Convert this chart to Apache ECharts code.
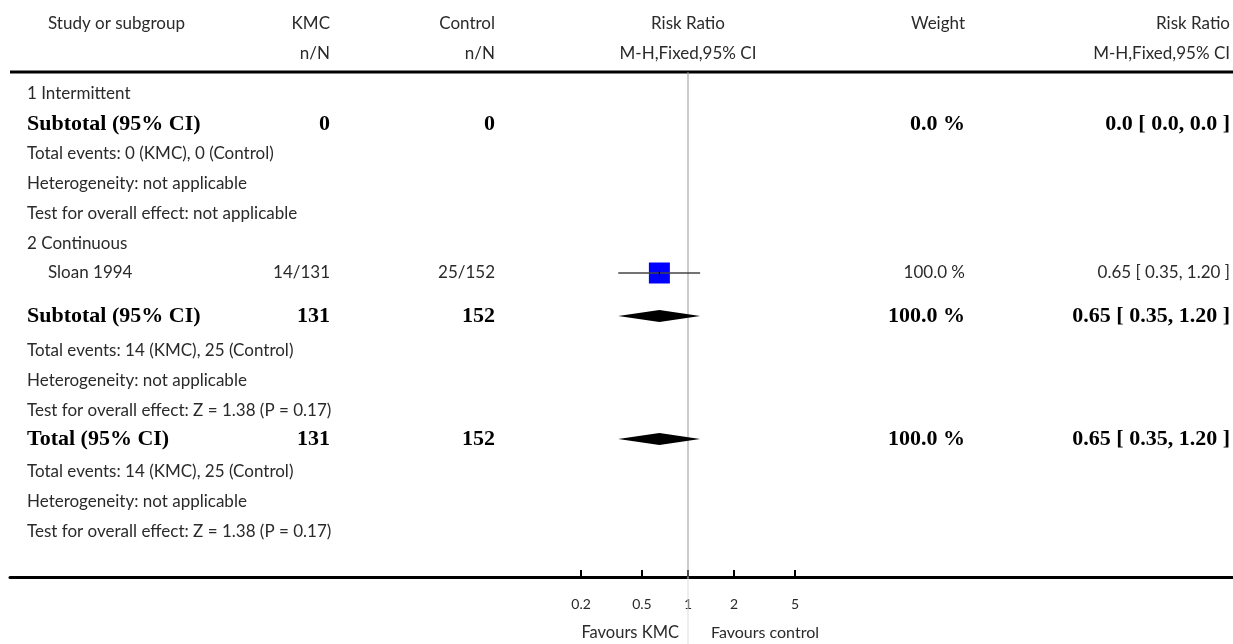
<!DOCTYPE html>
<html>
<head>
<meta charset="utf-8">
<script src="https://cdn.jsdelivr.net/npm/echarts@6/dist/echarts.min.js"></script>
<style>html,body{margin:0;padding:0;background:#fff}#c{width:1233px;height:644px}</style>
</head>
<body>
<div id="c"></div>
<script>
// ---------- data ----------
const rowLabels = [
  '1 Intermittent',
  'Subtotal (95% CI)',
  'Total events: 0 (KMC), 0 (Control)',
  'Heterogeneity: not applicable',
  'Test for overall effect: not applicable',
  '2 Continuous',
  'Sloan 1994',
  'Subtotal (95% CI)',
  'Total events: 14 (KMC), 25 (Control)',
  'Heterogeneity: not applicable',
  'Test for overall effect: Z = 1.38 (P = 0.17)',
  'Total (95% CI)',
  'Total events: 14 (KMC), 25 (Control)',
  'Heterogeneity: not applicable',
  'Test for overall effect: Z = 1.38 (P = 0.17)'
];
const rowKinds = ['heading','subtotal','note','note','note','heading','study','subtotal','note','note','note','total','note','note','note'];
const kmcValues     = ['', '0', '', '', '', '', '14/131', '131', '', '', '', '131', '', '', ''];
const controlValues = ['', '0', '', '', '', '', '25/152', '152', '', '', '', '152', '', '', ''];
const weightValues  = ['', '0.0 %', '', '', '', '', '100.0 %', '100.0 %', '', '', '', '100.0 %', '', '', ''];
const ciTexts       = ['', '0.0 [ 0.0, 0.0 ]', '', '', '', '', '0.65 [ 0.35, 1.20 ]', '0.65 [ 0.35, 1.20 ]', '', '', '', '0.65 [ 0.35, 1.20 ]', '', '', ''];
const estimates     = [null, null, null, null, null, null, 0.65, 0.65, null, null, null, 0.65, null, null, null];
const lowerCI       = [null, null, null, null, null, null, 0.35, 0.35, null, null, null, 0.35, null, null, null];
const upperCI       = [null, null, null, null, null, null, 1.20, 1.20, null, null, null, 1.20, null, null, null];
const weights       = [null, null, null, null, null, null, 100, 100, null, null, null, 100, null, null, null];
const tickValues = [0.2, 0.5, 1, 2, 5];
const favoursLeft = 'Favours KMC';
const favoursRight = 'Favours control';
const headers = {
  study: 'Study or subgroup', kmc: 'KMC', control: 'Control', rr: 'Risk Ratio',
  nN: 'n/N', method: 'M-H,Fixed,95% CI', weight: 'Weight'
};

// ---------- layout (vertical row positions on the table's y scale) ----------
const rowPos = [94, 124, 154, 184, 214, 244, 273, 316, 351, 381, 411, 439, 472, 502, 532];
const headerPos = [24, 54];
const headRulePos = 72;
const axisPos = 577;
const favoursPos = 633;
const pageBottom = 644;

const chart = echarts.init(document.getElementById('c'), null, {renderer: 'canvas'});

const gridLeft = 10, gridRight = 0;
const W = 1233 - gridLeft - gridRight;
const pxPerDecade = 153;
const nullX = 688;
const xMin = Math.pow(10, -(nullX - gridLeft) / pxPerDecade);
const xMax = Math.pow(10, (gridLeft + W - nullX) / pxPerDecade);

const SANS = 'Lato, "Open Sans", sans-serif';
const SERIF = '"Liberation Serif", "DejaVu Serif", serif';
const TXT = '#2a2a2a';

const col = { study: 27, studyIndent: 48, kmc: 330, control: 495, weight: 965, ci: 1230 };

function txt(text, x, y, align, bold) {
  return {
    type: 'text',
    style: {
      text: text, x: x, y: y, align: align, verticalAlign: 'middle',
      font: bold ? ('bold 22px ' + SERIF) : ('17px ' + SANS),
      fill: bold ? '#000' : TXT
    }
  };
}

const tableData = rowLabels.map((l, i) => [1, rowPos[i], i]);
const studyData = [], diamondData = [];
rowKinds.forEach((k, i) => {
  if (estimates[i] == null) return;
  if (k === 'study') studyData.push([estimates[i], rowPos[i], lowerCI[i], upperCI[i], weights[i]]);
  else diamondData.push([estimates[i], rowPos[i], lowerCI[i], upperCI[i]]);
});

const option = {
  animation: false,
  grid: { left: gridLeft, right: gridRight, top: 0, bottom: 644 - axisPos, containLabel: false },
  xAxis: {
    type: 'log', min: xMin, max: xMax, logBase: 10, position: 'bottom',
    axisLine: { show: true, onZero: false, lineStyle: { color: '#000', width: 3 } },
    axisTick: { show: true, inside: true, length: 7, lineStyle: { color: '#000', width: 2 }, customValues: tickValues },
    axisLabel: { show: true, customValues: tickValues, margin: 20, fontSize: 14, fontFamily: SANS, color: TXT,
      formatter: v => String(+(+v).toPrecision(3)) },
    splitLine: { show: false }, minorTick: { show: false }, minorSplitLine: { show: false }
  },
  yAxis: { type: 'value', inverse: true, min: 0, max: axisPos, show: false },
  series: [
    // header, rules, null line, favours labels
    {
      type: 'custom', data: [[1, 0]], silent: true, clip: false, z: 1,
      renderItem: function (params, api) {
        const cs = params.coordSys;
        const top = api.coord([1, headRulePos]);
        const axisP = api.coord([1, axisPos]);
        const bottom = api.coord([1, pageBottom]);
        const h0 = api.coord([1, headerPos[0]])[1], h1 = api.coord([1, headerPos[1]])[1];
        const fy = api.coord([1, favoursPos])[1];
        return {
          type: 'group',
          children: [
            { type: 'line', shape: { x1: cs.x, y1: top[1], x2: cs.x + cs.width, y2: top[1] }, style: { stroke: '#000', lineWidth: 3 } },
            { type: 'line', shape: { x1: top[0], y1: top[1], x2: axisP[0], y2: axisP[1] }, style: { stroke: '#999', lineWidth: 1 } },
            { type: 'line', shape: { x1: axisP[0], y1: axisP[1], x2: bottom[0], y2: bottom[1] }, style: { stroke: '#ddd', lineWidth: 1 } },
            txt(headers.study, col.studyIndent, h0, 'left'),
            txt(headers.kmc, col.kmc, h0, 'right'),
            txt(headers.nN, col.kmc, h1, 'right'),
            txt(headers.control, col.control, h0, 'right'),
            txt(headers.nN, col.control, h1, 'right'),
            txt(headers.rr, top[0], h0, 'center'),
            txt(headers.method, top[0], h1, 'center'),
            txt(headers.weight, col.weight, h0, 'right'),
            txt(headers.rr, col.ci, h0, 'right'),
            txt(headers.method, col.ci, h1, 'right'),
            { type: 'text', style: { text: favoursLeft, x: top[0] - 9, y: fy, align: 'right', verticalAlign: 'middle', font: '16.5px ' + SANS, fill: TXT } },
            { type: 'text', style: { text: favoursRight, x: top[0] + 23, y: fy, align: 'left', verticalAlign: 'middle', font: '16px ' + SANS, fill: TXT } }
          ]
        };
      }
    },
    // table rows
    {
      type: 'custom', data: tableData, silent: true, clip: false, z: 2,
      renderItem: function (params, api) {
        const i = api.value(2);
        const y = api.coord([1, api.value(1)])[1];
        const kind = rowKinds[i];
        const bold = kind === 'subtotal' || kind === 'total';
        const x0 = kind === 'study' ? col.studyIndent : col.study;
        const ch = [txt(rowLabels[i], x0, y, 'left', bold)];
        if (kmcValues[i]) ch.push(txt(kmcValues[i], col.kmc, y, 'right', bold));
        if (controlValues[i]) ch.push(txt(controlValues[i], col.control, y, 'right', bold));
        if (weightValues[i]) ch.push(txt(weightValues[i], col.weight, y, 'right', bold));
        if (ciTexts[i]) ch.push(txt(ciTexts[i], col.ci, y, 'right', bold));
        return { type: 'group', children: ch };
      }
    },
    // study CI + box
    {
      type: 'custom', data: studyData, silent: true, z: 5,
      renderItem: function (params, api) {
        const c = api.coord([api.value(0), api.value(1)]);
        const lo = api.coord([api.value(2), api.value(1)]);
        const hi = api.coord([api.value(3), api.value(1)]);
        const s = 21 * Math.sqrt(api.value(4) / 100);
        return {
          type: 'group',
          children: [
            { type: 'rect', shape: { x: c[0] - s / 2, y: c[1] - s / 2, width: s, height: s }, style: { fill: '#0000ff' } },
            { type: 'line', shape: { x1: lo[0], y1: c[1], x2: hi[0], y2: c[1] }, style: { stroke: '#444', lineWidth: 1.5 } },
            { type: 'line', shape: { x1: c[0], y1: c[1] - 2.5, x2: c[0], y2: c[1] + 2.5 }, style: { stroke: '#000', lineWidth: 1 } }
          ]
        };
      }
    },
    // pooled diamonds
    {
      type: 'custom', data: diamondData, silent: true, z: 5,
      renderItem: function (params, api) {
        const c = api.coord([api.value(0), api.value(1)]);
        const lo = api.coord([api.value(2), api.value(1)]);
        const hi = api.coord([api.value(3), api.value(1)]);
        const h = 6;
        return {
          type: 'polygon',
          shape: { points: [[lo[0], c[1]], [c[0], c[1] - h], [hi[0], c[1]], [c[0], c[1] + h]] },
          style: { fill: '#000' }
        };
      }
    }
  ]
};
chart.setOption(option);
</script>
</body>
</html>
